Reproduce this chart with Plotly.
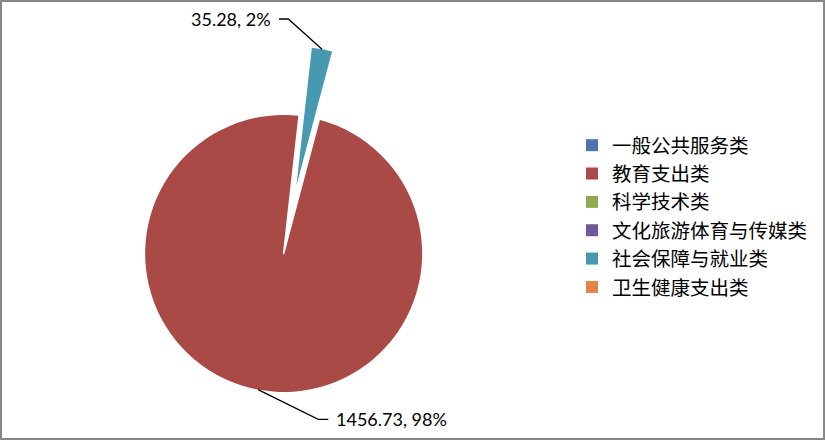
import math
import plotly.graph_objects as go

# ---- data ----
categories = ["一般公共服务类", "教育支出类", "科学技术类", "文化旅游体育与传媒类", "社会保障与就业类", "卫生健康支出类"]
values = [0, 1456.73, 0, 0, 35.28, 0]
colors = ["#4A76AC", "#A94A47", "#8CAA52", "#70589A", "#4699B1", "#DE8642"]
exploded = "社会保障与就业类"

# ---- layout geometry (pixels) ----
W, H = 825, 440
CX, CY, R = 283.65, 253.5, 138.5
ROT = 14.9
PULL = 0.5


def px(x):
    return x / W


def py(y):
    return 1 - y / H


def dom(cx, cy, r):
    return dict(x=[px(cx - r), px(cx + r)], y=[py(cy + r), py(cy - r)])


total = sum(values)
# slice angles (clockwise from 12 o'clock)
angles = []
a = ROT
for v in values:
    span = 360 * v / total
    angles.append((a, a + span))
    a += span

ei = categories.index(exploded)
mid_e = math.radians((angles[ei][0] + angles[ei][1]) / 2)
d = PULL * R
PCX, PCY = CX + d * math.sin(mid_e), CY - d * math.cos(mid_e)

transparent = "rgba(0,0,0,0)"
main = go.Pie(
    labels=categories, values=values, sort=False, direction="clockwise", rotation=ROT,
    marker=dict(colors=colors, line=dict(width=0)), textinfo="none",
    domain=dom(CX, CY, R), showlegend=True,
)
cover = go.Pie(
    labels=categories, values=values, sort=False, direction="clockwise", rotation=ROT,
    marker=dict(colors=["#FFFFFF" if c == exploded else transparent for c in categories],
                line=dict(width=1.5, color=["#FFFFFF" if c == exploded else transparent for c in categories])),
    textinfo="none", domain=dom(CX, CY, R), showlegend=False, hoverinfo="skip",
)
pulled = go.Pie(
    labels=categories, values=values, sort=False, direction="clockwise", rotation=ROT,
    marker=dict(colors=[colors[i] if c == exploded else transparent for i, c in enumerate(categories)],
                line=dict(width=0)),
    textinfo="none", domain=dom(PCX, PCY, R), showlegend=False,
)

fig = go.Figure([main, cover, pulled])

# ---- data labels with leader lines ----
shapes = [dict(type="rect", xref="paper", yref="paper", x0=0, y0=0, x1=1, y1=1,
               line=dict(color="#878787", width=4), fillcolor="rgba(0,0,0,0)")]
annotations = []


def label_for(i):
    return f"{values[i]:.2f}, {round(100 * values[i] / total)}%"


LABEL_FONT = dict(family="Lato", size=18, color="black")

# exploded slice label (upper left)
ax, ay = PCX + R * math.sin(mid_e), PCY - R * math.cos(mid_e)
ex, ey = 288.3, 19.0
hx = 279.0
shapes.append(dict(type="path", xref="paper", yref="paper",
                   path=f"M{px(ax)},{py(ay)} L{px(ex)},{py(ey)} L{px(hx)},{py(ey)}",
                   line=dict(color="black", width=1.3)))
annotations.append(dict(x=px(hx - 6), y=py(ey), xref="paper", yref="paper", xanchor="right",
                        yanchor="middle", text=label_for(ei), showarrow=False, font=LABEL_FONT))

# largest slice label (bottom)
bi = values.index(max(values))
mid_b = math.radians((angles[bi][0] + angles[bi][1]) / 2)
bx, by = CX + R * math.sin(mid_b), CY - R * math.cos(mid_b)
ex2, ey2 = 318.3, 419.3
hx2 = 328.3
shapes.append(dict(type="path", xref="paper", yref="paper",
                   path=f"M{px(bx)},{py(by)} L{px(ex2)},{py(ey2)} L{px(hx2)},{py(ey2)}",
                   line=dict(color="black", width=1.3)))
annotations.append(dict(x=px(hx2 + 6), y=py(ey2), xref="paper", yref="paper", xanchor="left",
                        yanchor="middle", text=label_for(bi), showarrow=False, font=LABEL_FONT))

fig.update_layout(
    width=W, height=H, margin=dict(l=0, r=0, t=0, b=0),
    paper_bgcolor="white", plot_bgcolor="white",
    shapes=shapes, annotations=annotations,
    legend=dict(x=px(572), y=py(126), xanchor="left", yanchor="top",
                font=dict(family="Noto Sans CJK SC", size=19.5, color="black"),
                bgcolor="rgba(0,0,0,0)"),
)

fig.write_html("out.html", config={"displayModeBar": False},
               post_script="document.body.style.margin='0';document.body.style.overflow='hidden';")
